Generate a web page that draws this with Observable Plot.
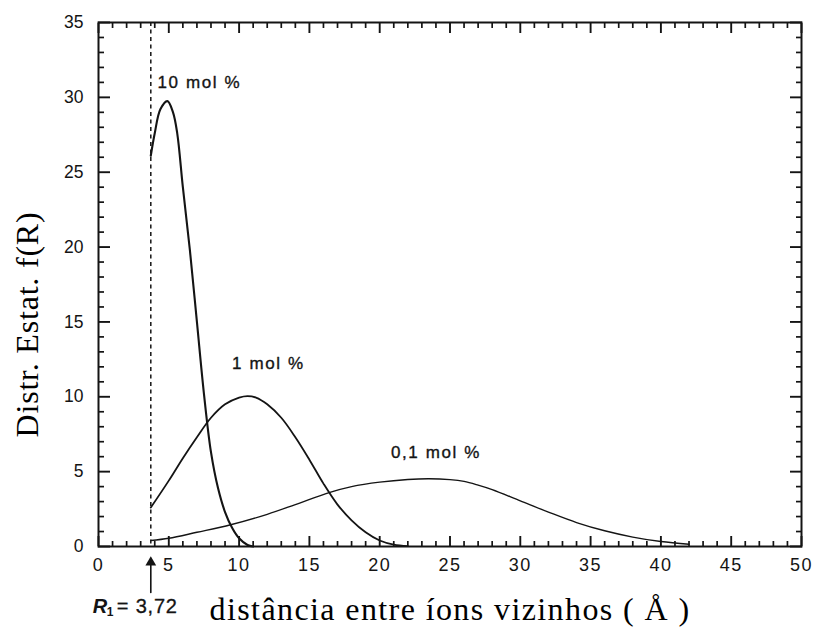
<!DOCTYPE html>
<html>
<head>
<meta charset="utf-8">
<script src="https://cdn.jsdelivr.net/npm/d3@7"></script>
<script src="https://cdn.jsdelivr.net/npm/@observablehq/plot@0.6"></script>
<style>
  body { margin: 0; background: #fff; overflow: hidden; }
  #chart svg { display: block; }
</style>
</head>
<body>
<div id="chart"></div>
<script>
// ---- data ----
const R1 = 3.72;

const r10 = [3.72, 4.0, 4.4, 4.9, 5.3, 5.6, 6.0, 6.5, 7.0, 7.5, 8.0, 8.5, 9.0, 9.5, 10.0, 10.6, 11.0];
const f10 = [26.1, 27.6, 29.2, 29.75, 29.0, 27.6, 24.0, 19.8, 15.0, 10.2, 6.3, 3.9, 2.3, 1.25, 0.55, 0.1, 0];

const r1 = [3.72, 5, 6, 7, 8, 9, 10, 10.6, 11.2, 12, 13, 14, 15, 16, 17, 18, 19, 20, 21, 22];
const f1 = [2.6, 4.4, 5.9, 7.3, 8.6, 9.5, 9.95, 10.05, 9.95, 9.5, 8.6, 7.3, 5.8, 4.2, 2.8, 1.75, 0.95, 0.4, 0.12, 0.02];

const r01 = [3.72, 5, 7, 9.4, 12, 14, 16.4, 18, 20, 22, 23.5, 25, 26, 27, 28, 30, 32, 34, 36, 38, 40, 42];
const f01 = [0.4, 0.55, 0.95, 1.45, 2.15, 2.8, 3.6, 4.0, 4.3, 4.48, 4.53, 4.47, 4.35, 4.1, 3.8, 3.05, 2.3, 1.6, 1.05, 0.63, 0.33, 0.15];

const seriesNames = ["10 mol %", "1 mol %", "0,1 mol %"];

const xTicks = [0, 5, 10, 15, 20, 25, 30, 35, 40, 45, 50];
const yTicks = [0, 5, 10, 15, 20, 25, 30, 35];

const xTitle = "distância entre íons vizinhos ( Å )";
const yTitle = "Distr. Estat. f(R)";
const r1Letter = "R";
const r1Sub = "1";
const r1Value = "= 3,72";

// ---- build tables ----
const toRows = (rs, fs, s) => rs.map((r, i) => ({r, f: fs[i], s}));
const c10 = toRows(r10, f10, seriesNames[0]);
const c1 = toRows(r1, f1, seriesNames[1]);
const c01 = toRows(r01, f01, seriesNames[2]);

// annotation placement (data units)
const labels = [
  {s: seriesNames[0], x: 4.2, y: 31.0},
  {s: seriesNames[1], x: 9.5, y: 12.2},
  {s: seriesNames[2], x: 20.8, y: 6.3}
];

// ---- layout ----
const W = 814, H = 627, mt = 22, mb = 81, ml = 98, mr = 13;
const ink = "#141414";

const xMinor = d3.range(0, 51, 1).filter(v => v % 5 !== 0);
const yMinor = d3.range(0, 36, 1).filter(v => v % 5 !== 0);
const xMin = 0, xMax = 50, yMin = 0, yMax = 35;
const noText = () => "";

// inward ticks drawn by Plot's own axes (negative tick size points into the frame)
const inwardX = (ticks, anchor, size, w) =>
  Plot.axisX(ticks, {anchor, tickSize: -size, tickFormat: noText, label: null, stroke: ink, strokeWidth: w});
const inwardY = (ticks, anchor, size, w) =>
  Plot.axisY(ticks, {anchor, tickSize: -size, tickFormat: noText, label: null, stroke: ink, strokeWidth: w});

const plot = Plot.plot({
  width: W,
  height: H,
  marginTop: mt,
  marginBottom: mb,
  marginLeft: ml,
  marginRight: mr,
  style: {background: "#fff", color: ink, fontFamily: "'Liberation Sans', Arial, sans-serif"},
  x: {domain: [xMin, xMax]},
  y: {domain: [yMin, yMax]},
  marks: [
    // dashed line at R1
    Plot.ruleX([R1], {x: d => d, stroke: ink, strokeWidth: 1.5, strokeDasharray: "4,3.5"}),
    // curves
    Plot.line(c10, {x: "r", y: "f", curve: "catmull-rom", stroke: ink, strokeWidth: 2.1}),
    Plot.line(c1, {x: "r", y: "f", curve: "catmull-rom", stroke: ink, strokeWidth: 1.8}),
    Plot.line(c01, {x: "r", y: "f", curve: "catmull-rom", stroke: ink, strokeWidth: 1.4}),
    // frame
    Plot.frame({stroke: ink, strokeWidth: 2}),
    // inward ticks on all four sides
    inwardX(xMinor, "bottom", 5, 1.7),
    inwardX(xTicks, "bottom", 10, 1.9),
    inwardX(xMinor, "top", 5, 1.7),
    inwardX(xTicks, "top", 10, 1.9),
    inwardY(yMinor, "left", 6, 1.7),
    inwardY(yTicks, "left", 12, 1.9),
    inwardY(yMinor, "right", 6, 1.7),
    inwardY(yTicks, "right", 12, 1.9),
    // tick labels
    Plot.axisX(xTicks, {tickSize: 0, tickPadding: 12, fontSize: 18, label: null,
      stroke: ink, strokeWidth: 0.45}),
    Plot.axisY(yTicks, {tickSize: 0, tickPadding: 15, fontSize: 17.5, label: null,
      stroke: ink, strokeWidth: 0.45}),
    // curve labels
    Plot.text(labels, {x: "x", y: "y", text: "s", textAnchor: "start", lineAnchor: "middle",
      fontSize: 17, fill: ink, stroke: ink, strokeWidth: 0.35}),
    // R1 arrow
    Plot.vector([R1], {x: d => d, y: () => yMin, anchor: "start", length: 28, rotate: 0, dy: 46,
      shape: "spike", r: 0.01, stroke: ink, strokeWidth: 1.6}),
    Plot.dot([R1], {x: d => d, y: () => yMin, symbol: "triangle", r: 4, fill: ink, stroke: "none", dy: 16}),
    // R1 label
    Plot.text([R1], {x: d => d, y: () => yMin, text: () => r1Letter, textAnchor: "start", lineAnchor: "bottom",
      dx: -58, dy: 66, fontSize: 20, fontWeight: "bold", fontStyle: "italic", fill: ink}),
    Plot.text([R1], {x: d => d, y: () => yMin, text: () => r1Sub, textAnchor: "start", lineAnchor: "bottom",
      dx: -44, dy: 69, fontSize: 12, fontWeight: "bold", fill: ink}),
    Plot.text([R1], {x: d => d, y: () => yMin, text: () => r1Value, textAnchor: "start", lineAnchor: "bottom",
      dx: -34, dy: 66, fontSize: 20, fill: ink, stroke: ink, strokeWidth: 0.3}),
    // axis titles
    Plot.text([xTitle], {text: d => d, frameAnchor: "bottom", lineAnchor: "bottom", dy: 73,
      fontSize: 32, fontFamily: "'Liberation Serif', 'Times New Roman', serif", fill: "#000"}),
    Plot.text([yTitle], {text: d => d, frameAnchor: "left", rotate: -90, dx: -71, dy: 40,
      lineAnchor: "middle", textAnchor: "middle",
      fontSize: 32, fontFamily: "'Liberation Serif', 'Times New Roman', serif", fill: "#000"})
  ]
});

document.getElementById("chart").appendChild(plot);

// letter spacing for texts that are stretched in the reference
const spacing = new Map([
  [xTitle, "1.4px"], [yTitle, "0.8px"], [r1Value, "0.8px"],
  [seriesNames[0], "1.6px"], [seriesNames[1], "1.6px"], [seriesNames[2], "1.6px"]
]);
d3.select(plot).selectAll("text").each(function () {
  const t = this.textContent;
  if (spacing.has(t)) this.style.letterSpacing = spacing.get(t);
  else if (this.closest('g[aria-label="x-axis tick label"]')) this.style.letterSpacing = "1.5px";
});
</script>
</body>
</html>
